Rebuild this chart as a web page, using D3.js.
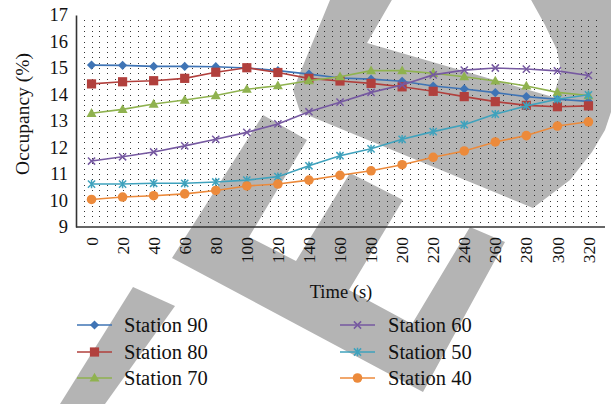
<!DOCTYPE html>
<html>
<head>
<meta charset="utf-8">
<script src="https://cdn.jsdelivr.net/npm/d3@7"></script>
<style>
  html, body { margin: 0; padding: 0; background: #fff; }
  svg { display: block; }
  text { font-family: "Liberation Serif", "DejaVu Serif", serif; fill: #111; }
</style>
</head>
<body>
<svg id="chart" width="611" height="404"></svg>
<script>
// Time steps (s)
const times = [0, 20, 40, 60, 80, 100, 120, 140, 160, 180, 200, 220, 240, 260, 280, 300, 320];
const yTicks = [9, 10, 11, 12, 13, 14, 15, 16, 17];

// Occupancy (%) per station
const station90 = [15.11, 15.10, 15.06, 15.06, 15.05, 15.00, 14.90, 14.77, 14.62, 14.58, 14.50, 14.32, 14.21, 14.07, 13.92, 13.82, 13.74];
const station80 = [14.40, 14.48, 14.52, 14.61, 14.84, 15.01, 14.83, 14.61, 14.51, 14.42, 14.29, 14.12, 13.92, 13.73, 13.59, 13.54, 13.57];
const station70 = [13.29, 13.44, 13.64, 13.79, 13.96, 14.20, 14.33, 14.52, 14.67, 14.90, 14.90, 14.80, 14.67, 14.51, 14.32, 14.08, 13.96];
const station60 = [11.49, 11.65, 11.83, 12.06, 12.31, 12.57, 12.89, 13.35, 13.71, 14.08, 14.36, 14.74, 14.92, 15.00, 14.96, 14.89, 14.72];
const station50 = [10.62, 10.62, 10.65, 10.65, 10.70, 10.77, 10.90, 11.31, 11.69, 11.95, 12.31, 12.60, 12.86, 13.26, 13.57, 13.82, 13.99];
const station40 = [10.04, 10.13, 10.18, 10.25, 10.38, 10.55, 10.62, 10.77, 10.95, 11.12, 11.35, 11.63, 11.87, 12.21, 12.45, 12.81, 12.97];

const seriesNames = ["Station 90", "Station 80", "Station 70", "Station 60", "Station 50", "Station 40"];
const seriesValues = [station90, station80, station70, station60, station50, station40];
const seriesColors = ["#3f74b5", "#b1403d", "#8fb24f", "#7659a1", "#3fa2bd", "#ec8a3b"];
const seriesMarkers = ["diamond", "square", "triangle", "cross", "star", "circle"];

const svg = d3.select("#chart");

// Background watermark: a tilted loop, a tilted "E" and a lone bar
const wm = svg.append("g").attr("fill", "#b4b4b4");
wm.append("path")
  .attr("fill-rule", "evenodd")
  .attr("d",
    "M330,0 L615,0 L615,100 L605,130 L592,152 L570,180 L533,208 L300,112 L293,90 Z " +
    "M393,-2 L367,43 L553,97 L561,72 L557,50 L545,25 L530,-2 Z");
wm.append("path").attr("d",
  "M263,115 L307,140 L249,237 L296,261 L350,173 L403,200 L349,290 L412,324 " +
  "L470,227 L505,242 L423,392 L172,258 Z");
wm.append("path").attr("d", "M133,287 L175,306 L105,404 L60,404 Z");

const x = d3.scaleBand().domain(times).range([76, 604]).padding(0);
const y = d3.scaleLinear().domain([9, 17]).range([227, 15]);
const cx = t => x(t) + x.bandwidth() / 2;

// Dotted grid: dot columns at quarter-category spacing, dot rows every 0.2 %
const gridX = d3.range(1, times.length * 4).map(i => 76 + i * x.bandwidth() / 4);
const gridY = d3.range(9.2, 17.0, 0.2).map(v => y(v));
const dots = [];
gridX.forEach(gx => gridY.forEach(gy => dots.push([gx, gy])));
svg.append("g")
  .selectAll("rect")
  .data(dots)
  .join("rect")
  .attr("x", d => Math.round(d[0]))
  .attr("y", d => Math.round(d[1]))
  .attr("width", 1).attr("height", 1)
  .attr("fill", "#333");

// Axes
const yAxis = d3.axisLeft(y).tickValues(yTicks).tickSize(0).tickPadding(8).tickFormat(d3.format("d"));
const gy = svg.append("g").attr("transform", "translate(76,0)").call(yAxis);
gy.select(".domain").attr("stroke", "#333").attr("stroke-width", 1.6);
gy.selectAll("text").style("font-size", "18.5px").attr("font-family", "Liberation Serif");

const xAxis = d3.axisBottom(x).tickSize(0).tickPadding(0);
const gx = svg.append("g").attr("transform", "translate(0,227)").call(xAxis);
gx.select(".domain").attr("stroke", "#333").attr("stroke-width", 1.6).attr("d", "M76,0H605");
gx.selectAll("text")
  .style("font-size", "17.5px")
  .attr("font-family", "Liberation Serif")
  .attr("text-anchor", "end")
  .attr("dy", "0.35em")
  .attr("transform", "translate(0,10) rotate(-90)")
  .attr("x", 0).attr("y", 0);

// Axis titles
svg.append("text")
  .attr("transform", "translate(29,114) rotate(-90)")
  .attr("text-anchor", "middle")
  .style("font-size", "19.5px")
  .text("Occupancy (%)");
svg.append("text")
  .attr("x", 341).attr("y", 298)
  .attr("text-anchor", "middle")
  .style("font-size", "18.5px")
  .text("Time (s)");

// Marker drawing
function drawMarker(g, type, color) {
  switch (type) {
    case "diamond":
      g.append("path").attr("d", "M0,-4.6L4.6,0L0,4.6L-4.6,0Z").attr("fill", color);
      break;
    case "square":
      g.append("rect").attr("x", -4.6).attr("y", -4.6).attr("width", 9.2).attr("height", 9.2).attr("fill", color);
      break;
    case "triangle":
      g.append("path").attr("d", "M0,-5.2L5,3.6L-5,3.6Z").attr("fill", color);
      break;
    case "cross":
      g.append("path").attr("d", "M-3.6,-3.6L3.6,3.6M-3.6,3.6L3.6,-3.6").attr("stroke", color).attr("stroke-width", 1.5);
      break;
    case "star":
      g.append("path").attr("d", "M-3.6,-3.6L3.6,3.6M-3.6,3.6L3.6,-3.6M0,-4.2L0,4.2").attr("stroke", color).attr("stroke-width", 1.5);
      break;
    case "circle":
      g.append("circle").attr("r", 4.8).attr("fill", color);
      break;
  }
}

const line = d3.line().x((d, i) => cx(times[i])).y(d => y(d));

seriesValues.forEach((vals, s) => {
  const g = svg.append("g");
  g.append("path")
    .datum(vals)
    .attr("d", line)
    .attr("fill", "none")
    .attr("stroke", seriesColors[s])
    .attr("stroke-width", 1.6);
  vals.forEach((v, i) => {
    const m = g.append("g").attr("transform", `translate(${cx(times[i])},${y(v)})`);
    drawMarker(m, seriesMarkers[s], seriesColors[s]);
  });
});

// Legend
const legendCols = [{ lx: 77, tx: 124 }, { lx: 340, tx: 388 }];
const legendRows = [325, 352, 378];
seriesNames.forEach((name, s) => {
  const col = legendCols[Math.floor(s / 3)];
  const ry = legendRows[s % 3];
  const g = svg.append("g");
  g.append("line")
    .attr("x1", col.lx).attr("x2", col.lx + 35)
    .attr("y1", ry).attr("y2", ry)
    .attr("stroke", seriesColors[s]).attr("stroke-width", 1.6);
  const m = g.append("g").attr("transform", `translate(${col.lx + 17.5},${ry})`);
  drawMarker(m, seriesMarkers[s], seriesColors[s]);
  g.append("text")
    .attr("x", col.tx).attr("y", ry + 6.5)
    .style("font-size", "20.5px")
    .text(name);
});
</script>
</body>
</html>
